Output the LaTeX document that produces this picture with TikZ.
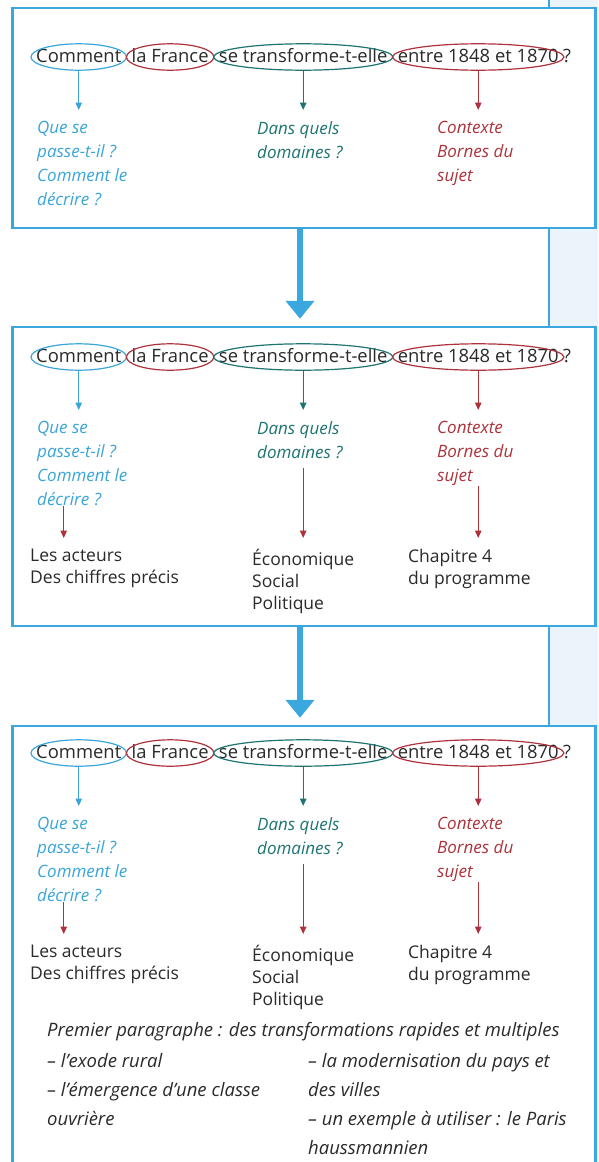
\documentclass[tikz,border=0pt]{standalone}
\usepackage{fontspec}
\setmainfont{Open Sans}
\usetikzlibrary{arrows.meta,positioning,calc}
\definecolor{PlanFrame}{HTML}{3AA8DF}
\definecolor{PlanStrip}{HTML}{EBF4FB}
\definecolor{PlanBlue}{HTML}{3AA5D8}
\definecolor{PlanTeal}{HTML}{1E7472}
\definecolor{PlanRed}{HTML}{AE323B}
\definecolor{PlanInk}{HTML}{2A2A2A}

\begin{document}
\begin{tikzpicture}[x=1pt,y=-1pt]
    \tikzset{planbox/.style={draw=PlanFrame,line width=2.5pt,fill=white,minimum width=583pt,inner sep=0pt}}
    \tikzset{qword/.style={inner xsep=0pt,inner ysep=5pt,text height=13pt,text depth=3pt,text=PlanInk,font=\fontsize{18.4}{20}\selectfont}}
    \tikzset{hint/.style={inner sep=0pt,anchor=north west,align=left,font=\fontsize{17}{24}\selectfont\itshape,execute at begin node=\rule{0pt}{13pt}}}
    \tikzset{answer/.style={inner sep=0pt,anchor=north west,align=left,text=PlanInk,font=\fontsize{17.5}{22}\selectfont,execute at begin node=\rule{0pt}{13pt}}}
    \tikzset{note/.style={inner sep=0pt,anchor=north west,align=left,text=PlanInk,font=\fontsize{18.5}{29}\selectfont\itshape,execute at begin node=\rule{0pt}{13pt}}}
    \tikzset{thinarrow/.style={-{Triangle[width=6.5pt,length=7.5pt]},line width=1.3pt,shorten >=11pt}}
    \tikzset{bigarrow/.style={-{Triangle[width=28pt,length=18pt]},line width=6pt,draw=PlanFrame,shorten >=7pt}}
    \useasboundingbox (0,0) rectangle (598,1162);
    \fill[PlanStrip] (549,0) rectangle (598,1162);
    \draw[PlanFrame,line width=1.5pt] (549,0) -- (549,1162);
    \node[planbox,minimum height=220pt] (box1) at (304,118) {};
    \node[planbox,minimum height=299pt] (box2) at (304,476.5) {};
    \node[planbox,minimum height=440pt] (box3) at (304,946) {};
    \draw[bigarrow] ([xshift=-4pt]box1.south) -- ([xshift=-4pt]box2.north);
    \draw[bigarrow] ([xshift=-4pt]box2.south) -- ([xshift=-4pt]box3.north);
    \foreach \b/\q in {1/57,2/357,3/753}{
      \node[qword,anchor=west] (c\b) at (36,\q) {Comment};
      \node[qword,right=10pt of c\b] (f\b) {la France};
      \node[qword,right=10pt of f\b] (t\b) {se transforme-t-elle};
      \node[qword,right=10pt of t\b] (d\b) {entre 1848 et 1870};
      \node[qword,right=4pt of d\b] (qm\b) {?};
      \foreach \w/\col in {c/PlanBlue,f/PlanRed,t/PlanTeal,d/PlanRed}
        \draw[\col,line width=1.2pt] let \p1=($(\w\b.north east)-(\w\b.south west)$) in (\w\b.center) ellipse [x radius={0.5*\x1+5pt},y radius={0.5*\y1}];
      \node[hint,text=PlanBlue] (lq\b) at (37,\q+64) {Que se\\passe-t-il ?\\Comment le\\décrire ?};
      \node[hint,text=PlanTeal] (ld\b) at (257,\q+64) {Dans quels\\domaines ?};
      \node[hint,text=PlanRed] (lc\b) at (437,\q+64) {Contexte\\Bornes du\\sujet};
      \draw[thinarrow,PlanBlue] (c\b.south) -- (c\b.south |- lq\b.north);
      \draw[thinarrow,PlanTeal] (t\b.south) -- (t\b.south |- ld\b.north);
      \draw[thinarrow,PlanRed] (d\b.south) -- (d\b.south |- lc\b.north);
    }
    \foreach \b/\q in {2/357,3/753}{
      \node[answer] (ka\b) at (30,\q+192) {Les acteurs\\Des chiffres précis};
      \node[answer] (kd\b) at (252,\q+192) {Économique\\Social\\Politique};
      \node[answer] (kc\b) at (408,\q+192) {Chapitre 4\\du programme};
      \draw[thinarrow,PlanRed] ([xshift=-15pt]c\b.south |- lq\b.south) -- ([xshift=-15pt]c\b.south |- ka\b.north);
      \draw[thinarrow,PlanRed,shorten <=9pt] (t\b.south |- ld\b.south) -- (t\b.south |- kd\b.north);
      \draw[thinarrow,PlanRed] (d\b.south |- lc\b.south) -- (d\b.south |- kc\b.north);
    }
    \node[note] (para) at (47,1022) {Premier paragraphe : des transformations rapides et multiples};
    \node[note] (leftcol) at (47,1053) {– l’exode rural\\– l’émergence d’une classe\\ouvrière};
    \node[note] (rightcol) at (308,1053) {– la modernisation du pays et\\des villes\\– un exemple à utiliser : le Paris\\haussmannien};
\end{tikzpicture}
\end{document}
